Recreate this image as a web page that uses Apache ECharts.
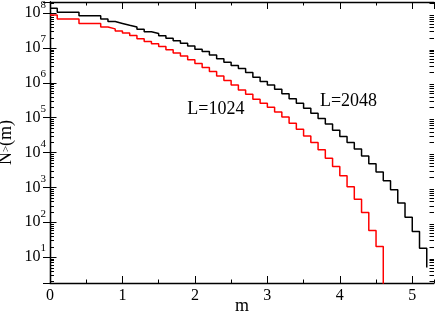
<!DOCTYPE html>
<html>
<head>
<meta charset="utf-8">
<script src="https://cdn.jsdelivr.net/npm/echarts@6/dist/echarts.min.js"></script>
<style>html,body{margin:0;padding:0;background:#fff}#c{width:436px;height:312px}</style>
</head>
<body>
<div id="c"></div>
<script>
// m values (bin starts) and cumulative counts N_>(m)
const mBlack = [0,0.1,0.4,0.7,0.8,0.9,1.0,1.1,1.2,1.3,1.4,1.5,1.6,1.7,1.8,1.9,2.0,2.1,2.2,2.3,2.4,2.5,2.6,2.7,2.8,2.9,3.0,3.1,3.2,3.3,3.4,3.5,3.6,3.7,3.8,3.9,4.0,4.1,4.2,4.3,4.4,4.5,4.6,4.7,4.8,4.9,5.0,5.1,5.2];
const nBlack = [1.38e8,1.07e8,8.5e7,6.8e7,5.75e7,5.1e7,4.5e7,4.0e7,3.47e7,2.95e7,2.63e7,2.24e7,1.9e7,1.62e7,1.38e7,1.15e7,9.3e6,7.9e6,6.3e6,4.9e6,3.9e6,3.16e6,2.57e6,2.0e6,1.45e6,1.1e6,8.7e5,6.6e5,4.9e5,3.5e5,2.6e5,1.86e5,1.35e5,9.5e4,6.6e4,4.4e4,2.9e4,1.95e4,1.26e4,7.9e3,4.8e3,2.75e3,1.55e3,850,355,138,54,18,5];
const mRed = [0,0.1,0.4,0.7,0.8,0.9,1.0,1.1,1.2,1.3,1.4,1.5,1.6,1.7,1.8,1.9,2.0,2.1,2.2,2.3,2.4,2.5,2.6,2.7,2.8,2.9,3.0,3.1,3.2,3.3,3.4,3.5,3.6,3.7,3.8,3.9,4.0,4.1,4.2,4.3,4.4,4.5,4.6];
const nRed = [8.9e7,6.8e7,5.1e7,4.0e7,3.55e7,3.1e7,2.7e7,2.3e7,1.86e7,1.55e7,1.32e7,1.1e7,8.9e6,7.2e6,5.9e6,4.6e6,3.6e6,2.75e6,2.14e6,1.58e6,1.17e6,8.7e5,6.3e5,4.7e5,3.4e5,2.6e5,2.0e5,1.45e5,1.05e5,6.9e4,4.7e4,3.0e4,1.95e4,1.2e4,6.9e3,4.0e3,2.15e3,1.05e3,455,190,58,20,1];
const seriesNames = ['L=2048','L=1024'];
const labelPos = [[4.12, 2.9e5],[2.29, 1.8e5]];
const yTickExps = [1,2,3,4,5,6,7,8];
const xTickLabels = ['0','1','2','3','4','5'];
const xMin = 0, xMax = 5.3, yMin = 1.8, yMax = 2.1e8;

const FONT = 'Liberation Serif';
const minorY = [];
for (let e = 0; e <= 8; e++) for (let k = 2; k <= 9; k++) {
  const v = k * Math.pow(10, e);
  if (v > yMin && v < yMax) minorY.push([0, v]);
}
const zip = (a, b) => a.map((x, i) => [x, b[i]]);

const chart = echarts.init(document.getElementById('c'), null, {renderer: 'canvas'});
const axLine = {show: true, lineStyle: {color: '#000', width: 1.3}};
const xBase = {type: 'value', min: xMin, max: xMax, splitLine: {show: false}};
const yBase = {type: 'log', logBase: 10, min: yMin, max: yMax, splitNumber: 8, splitLine: {show: false}};
chart.setOption({
  animation: false,
  grid: {left: 50, right: 2, top: 2, bottom: 29, containLabel: false, outerBoundsMode: 'none'},
  xAxis: [
    Object.assign({}, xBase, {position: 'bottom', interval: 1, axisLine: axLine,
      axisTick: {inside: true, length: 7, lineStyle: {color: '#000', width: 1}},
      axisLabel: {show: true, margin: 5, showMaxLabel: false, fontFamily: FONT, fontSize: 16, color: '#000',
        formatter: v => { const i = Math.round(v); return Math.abs(v - i) < 1e-9 && xTickLabels[i] !== undefined ? xTickLabels[i] : ''; }},
      name: 'm', nameLocation: 'middle', nameGap: 14, nameMoveOverlap: false,
      nameTextStyle: {fontFamily: FONT, fontSize: 18, color: '#000'}}),
    Object.assign({}, xBase, {position: 'bottom', interval: 0.5, axisLine: {show: false},
      axisTick: {inside: true, length: 3.5, lineStyle: {color: '#000', width: 1}}, axisLabel: {show: false}}),
    Object.assign({}, xBase, {position: 'top', interval: 1, axisLine: axLine,
      axisTick: {inside: true, length: 7, lineStyle: {color: '#000', width: 1}}, axisLabel: {show: false}}),
    Object.assign({}, xBase, {position: 'top', interval: 0.5, axisLine: {show: false},
      axisTick: {inside: true, length: 3.5, lineStyle: {color: '#000', width: 1}}, axisLabel: {show: false}})
  ],
  yAxis: [
    Object.assign({}, yBase, {position: 'left', axisLine: axLine,
      axisTick: {inside: true, length: 6.5, lineStyle: {color: '#000', width: 1}},
      axisLabel: {show: true, margin: 4, showMinLabel: false, showMaxLabel: false, color: '#000',
        formatter: v => {
          const l = Math.log10(v), e = Math.round(l);
          if (Math.abs(l - e) > 1e-6 || yTickExps.indexOf(e) < 0) return '';
          return '{b|10}{s|' + e + '}';
        },
        rich: {
          b: {fontFamily: FONT, fontSize: 16, color: '#000', lineHeight: 28, verticalAlign: 'middle'},
          s: {fontFamily: FONT, fontSize: 11, color: '#000', lineHeight: 11, verticalAlign: 'top'}
        }},
      name: '{a|N}{s|>}{a|(m)}', nameLocation: 'middle', nameGap: 34, nameRotate: 90, nameMoveOverlap: false,
      nameTextStyle: {rich: {
        a: {fontFamily: FONT, fontSize: 18, color: '#000', lineHeight: 20, verticalAlign: 'middle'},
        s: {fontFamily: FONT, fontSize: 11, color: '#000', lineHeight: 11, verticalAlign: 'middle'}
      }}}),
    Object.assign({}, yBase, {position: 'right', axisLine: axLine,
      axisTick: {inside: true, length: 7, lineStyle: {color: '#000', width: 1}}, axisLabel: {show: false}})
  ],
  series: [
    {name: seriesNames[0], type: 'line', step: 'end', xAxisIndex: 0, yAxisIndex: 0,
     data: zip(mBlack, nBlack), showSymbol: false, symbol: 'none', clip: true,
     lineStyle: {color: '#000', width: 1.5},
     markPoint: {symbol: 'circle', symbolSize: 0, silent: true,
       label: {show: true, position: 'inside', formatter: seriesNames[0], fontFamily: FONT, fontSize: 18, color: '#000'},
       data: [{coord: labelPos[0]}]}},
    {name: seriesNames[1], type: 'line', step: 'end', xAxisIndex: 0, yAxisIndex: 0,
     data: zip(mRed, nRed), showSymbol: false, symbol: 'none', clip: true,
     lineStyle: {color: '#ff0000', width: 1.5},
     markPoint: {symbol: 'circle', symbolSize: 0, silent: true,
       label: {show: true, position: 'inside', formatter: seriesNames[1], fontFamily: FONT, fontSize: 18, color: '#000'},
       data: [{coord: labelPos[1]}]}},
    {type: 'custom', xAxisIndex: 0, yAxisIndex: 0, silent: true, clip: false, data: minorY,
     renderItem: (params, api) => {
       const y = Math.round(api.coord([0, api.value(1)])[1]) + 0.5;
       const cs = params.coordSys;
       return {type: 'group', children: [
         {type: 'line', shape: {x1: cs.x, y1: y, x2: cs.x + 4, y2: y}, style: {stroke: '#000', lineWidth: 1}},
         {type: 'line', shape: {x1: cs.x + cs.width - 4.5, y1: y, x2: cs.x + cs.width, y2: y}, style: {stroke: '#000', lineWidth: 1}}
       ]};
     }}
  ]
});
</script>
</body>
</html>
